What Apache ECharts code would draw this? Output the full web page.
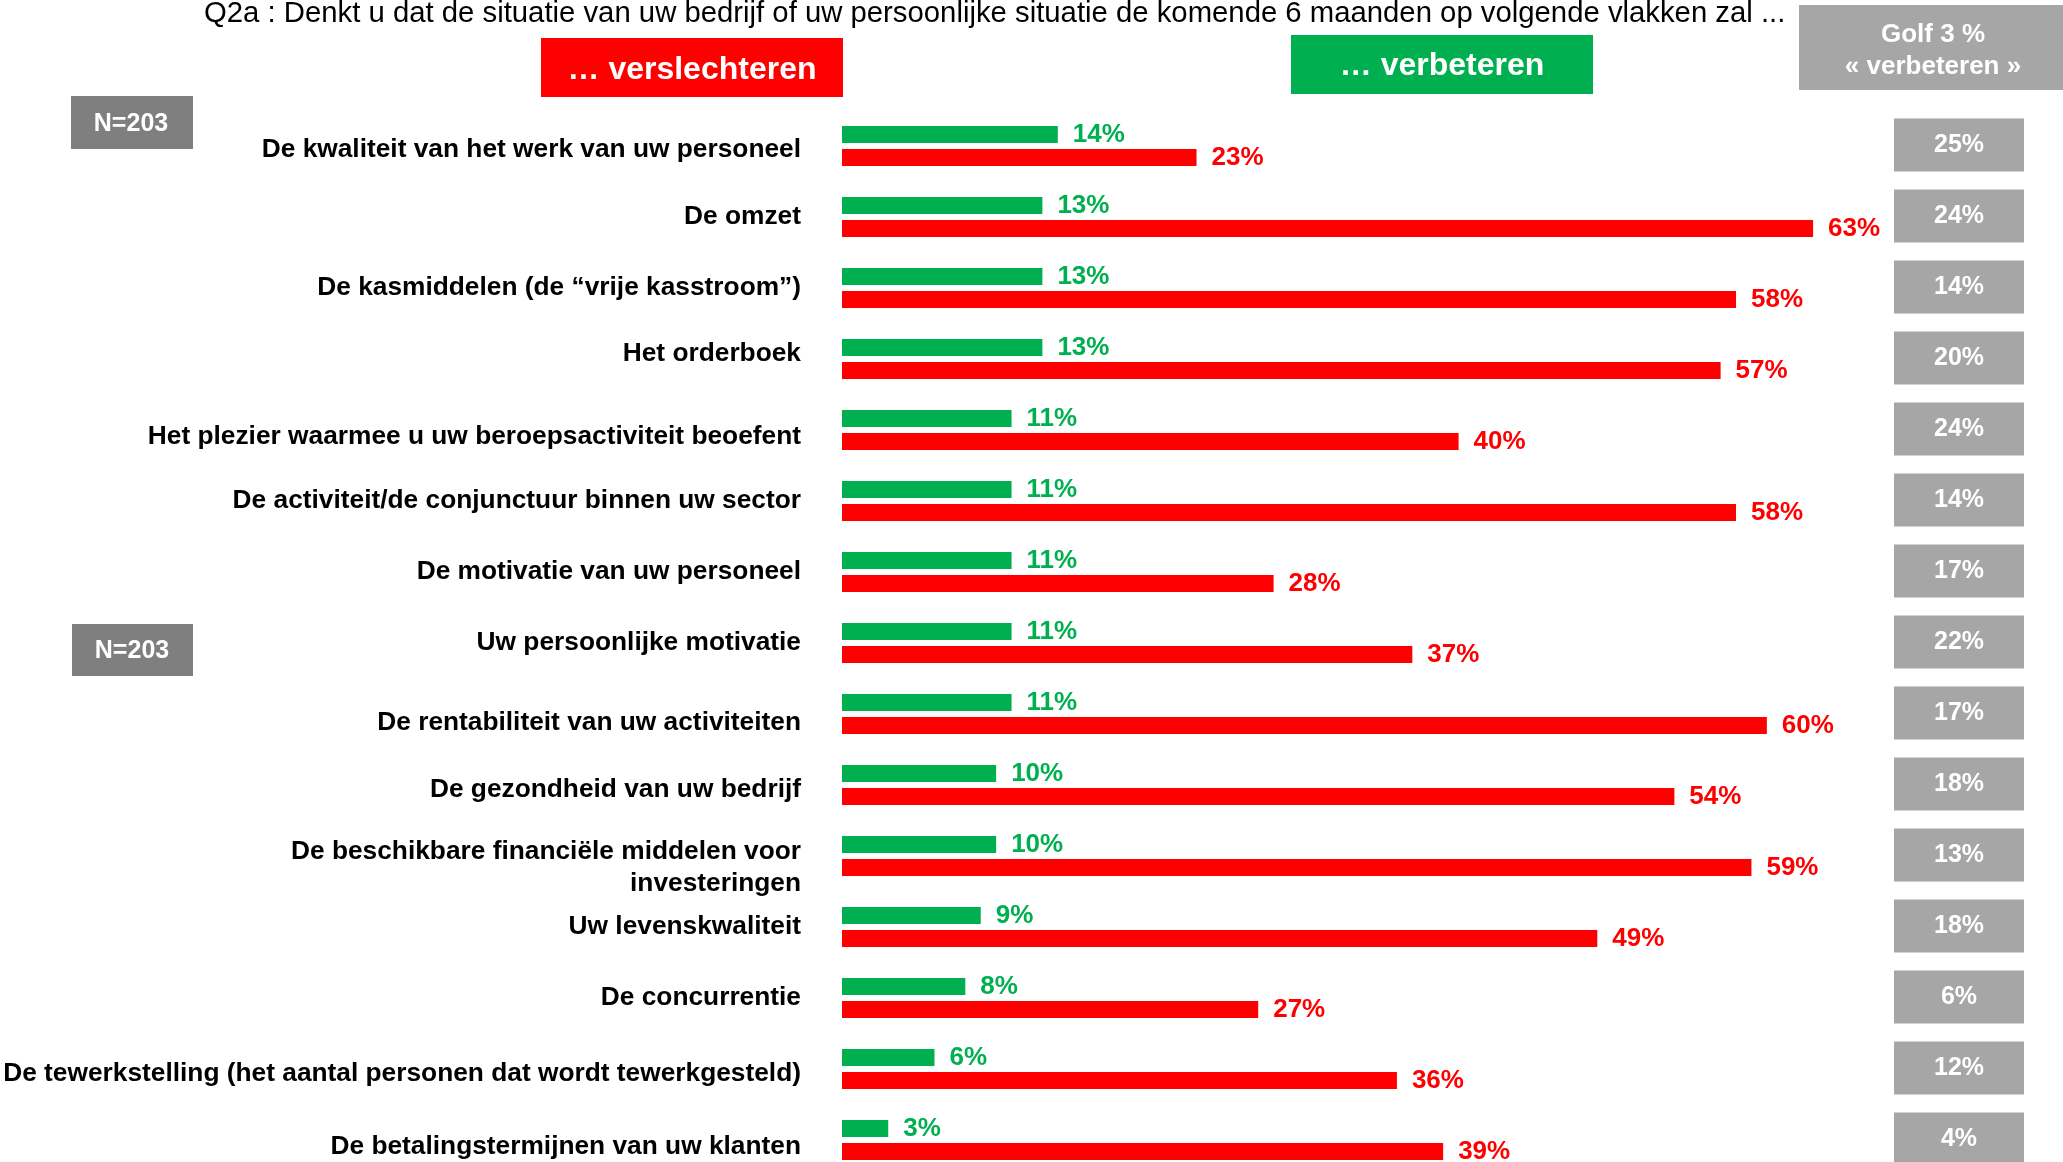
<!DOCTYPE html>
<html>
<head>
<meta charset="utf-8">
<title>Q2a verbeteren / verslechteren</title>
<script src="https://cdn.jsdelivr.net/npm/echarts@6/dist/echarts.min.js"></script>
<style>
    html, body { margin: 0; padding: 0; background: #fff; }
    #main { width: 2063px; height: 1162px; }
</style>
</head>
<body>
<div id="main"></div>
<script>
// categorieën (van boven naar onder)
const categories = [
    'De kwaliteit van het werk van uw personeel',
    'De omzet',
    'De kasmiddelen (de \u201cvrije kasstroom\u201d)',
    'Het orderboek',
    'Het plezier waarmee u uw beroepsactiviteit beoefent',
    'De activiteit/de conjunctuur binnen uw sector',
    'De motivatie van uw personeel',
    'Uw persoonlijke motivatie',
    'De rentabiliteit van uw activiteiten',
    'De gezondheid van uw bedrijf',
    'De beschikbare financi\u00eble middelen voor\ninvesteringen',
    'Uw levenskwaliteit',
    'De concurrentie',
    'De tewerkstelling (het aantal personen dat wordt tewerkgesteld)',
    'De betalingstermijnen van uw klanten'
];
// ... verbeteren (groen)
const verbeteren = [14, 13, 13, 13, 11, 11, 11, 11, 11, 10, 10, 9, 8, 6, 3];
// ... verslechteren (rood)
const verslechteren = [23, 63, 58, 57, 40, 58, 28, 37, 60, 54, 59, 49, 27, 36, 39];
// Golf 3 % "verbeteren"
const golf3 = [25, 24, 14, 20, 24, 14, 17, 22, 17, 18, 13, 18, 6, 12, 4];

const FONT = '"Liberation Sans", Arial, Helvetica, sans-serif';
const GREEN = '#00B050';
const RED = '#FF0000';

function barLabel(color) {
    return {
        show: true,
        position: 'right',
        distance: 15,
        formatter: '{c}%',
        color: color,
        fontFamily: FONT,
        fontWeight: 'bold',
        fontSize: 26
    };
}

function golfBox(params, api) {
    const c = api.coord([0, api.value(1)]);
    const cs = params.coordSys;
    return {
        type: 'group',
        children: [
            {
                type: 'rect',
                shape: { x: cs.x, y: c[1] - 27.5, width: cs.width, height: 53 },
                style: { fill: '#A6A6A6' }
            },
            {
                type: 'text',
                style: {
                    text: api.value(2) + '%',
                    x: cs.x + cs.width / 2,
                    y: c[1] - 1,
                    align: 'center',
                    verticalAlign: 'middle',
                    fill: '#fff',
                    fontFamily: FONT,
                    fontWeight: 'bold',
                    fontSize: 25
                }
            }
        ]
    };
}

function headerText(text, x, y, size) {
    return {
        type: 'text',
        x: x,
        y: y,
        style: {
            text: text,
            align: 'center',
            verticalAlign: 'middle',
            fill: '#fff',
            fontFamily: FONT,
            fontWeight: 'bold',
            fontSize: size
        }
    };
}

// sommige labels staan in het origineel niet precies in het midden (px omlaag/omhoog)
const labelShift = { 0: 4, 3: -5, 4: 7, 8: 9, 9: 5, 10: 12, 13: 5, 14: 7 };
const baseLabel = {
    color: '#000',
    fontFamily: FONT,
    fontWeight: 'bold',
    fontSize: 26.3,
    lineHeight: 32
};
const labelRich = {
    n: Object.assign({}, baseLabel),
    gap: { fontSize: 1, lineHeight: 24 }
};
Object.keys(labelShift).forEach(i => {
    const d = labelShift[i];
    labelRich['s' + i] = Object.assign({}, baseLabel, {
        padding: d > 0 ? [2 * d, 0, 0, 0] : [0, 0, -2 * d, 0]
    });
});
function categoryLabel(value, index) {
    const lines = value.split('\n');
    if (lines.length > 1) {
        // twee regels: lege regel ervoor schuift het blok omlaag
        return '{gap| }\n' + lines.map(l => '{n|' + l + '}').join('\n');
    }
    const key = labelShift[index] ? 's' + index : 'n';
    return '{' + key + '|' + value + '}';
}

const option = {
    animation: false,
    backgroundColor: '#fff',
    grid: [
        { left: 842, top: 110.5, width: 1079, height: 1065, outerBoundsMode: 'none' },
        { left: 1894, top: 110.5, width: 130, height: 1065, outerBoundsMode: 'none' }
    ],
    xAxis: [
        { type: 'value', gridIndex: 0, min: 0, max: 70, show: false },
        { type: 'value', gridIndex: 1, min: 0, max: 1, show: false }
    ],
    yAxis: [
        {
            type: 'category',
            gridIndex: 0,
            data: categories,
            inverse: true,
            axisLine: { show: false },
            axisTick: { show: false },
            splitLine: { show: false },
            axisLabel: Object.assign({
                margin: 41,
                align: 'right',
                formatter: categoryLabel,
                rich: labelRich
            }, baseLabel)
        },
        {
            type: 'category',
            gridIndex: 1,
            data: categories,
            inverse: true,
            show: false
        }
    ],
    graphic: [
        {
            type: 'text',
            x: 204,
            y: 14,
            style: {
                text: 'Q2a : Denkt u dat de situatie van uw bedrijf of uw persoonlijke situatie de komende 6 maanden op volgende vlakken zal ...',
                verticalAlign: 'middle',
                fill: '#000',
                fontFamily: FONT,
                fontSize: 29.3
            }
        },
        { type: 'rect', shape: { x: 541, y: 38, width: 302, height: 59 }, style: { fill: RED } },
        headerText('\u2026 verslechteren', 692, 70, 32),
        { type: 'rect', shape: { x: 1291, y: 35, width: 302, height: 59 }, style: { fill: GREEN } },
        headerText('\u2026 verbeteren', 1442, 66, 32),
        { type: 'rect', shape: { x: 1799, y: 5, width: 264, height: 85 }, style: { fill: '#A6A6A6' } },
        headerText('Golf 3 %', 1933, 35, 26),
        headerText('\u00ab verbeteren \u00bb', 1933, 67, 26),
        { type: 'rect', shape: { x: 71, y: 96, width: 122, height: 53 }, style: { fill: '#7F7F7F' } },
        headerText('N=203', 131, 124, 25),
        { type: 'rect', shape: { x: 72, y: 624, width: 121, height: 52 }, style: { fill: '#7F7F7F' } },
        headerText('N=203', 132, 651, 25)
    ],
    series: [
        {
            name: '... verbeteren',
            type: 'bar',
            xAxisIndex: 0,
            yAxisIndex: 0,
            data: verbeteren,
            barWidth: 17,
            barGap: '35%',
            itemStyle: { color: GREEN },
            label: barLabel(GREEN)
        },
        {
            name: '... verslechteren',
            type: 'bar',
            xAxisIndex: 0,
            yAxisIndex: 0,
            data: verslechteren,
            barWidth: 17,
            barGap: '35%',
            itemStyle: { color: RED },
            label: barLabel(RED)
        },
        {
            name: 'Golf 3',
            type: 'custom',
            xAxisIndex: 1,
            yAxisIndex: 1,
            data: golf3.map((v, i) => [0, i, v]),
            encode: { x: 0, y: 1 },
            renderItem: golfBox
        }
    ]
};

const myChart = echarts.init(document.getElementById('main'));
myChart.setOption(option);
</script>
</body>
</html>
